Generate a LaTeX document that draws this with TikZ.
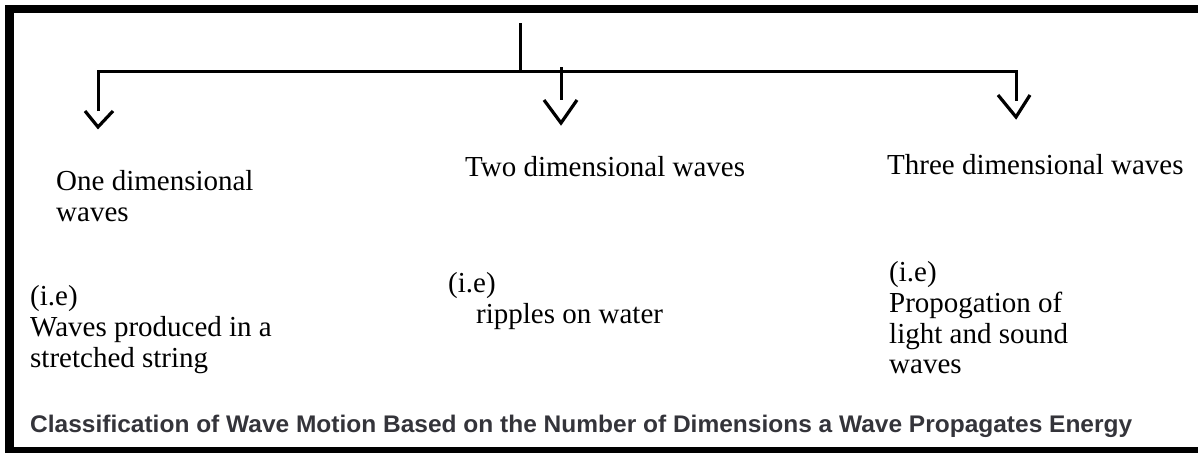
\documentclass[tikz,border=0pt]{standalone}
\usepackage{fontspec}
\setmainfont{Liberation Serif}
\newfontfamily\capfont{Liberation Sans}
\definecolor{capgray}{RGB}{52,52,58}
\begin{document}
\begin{tikzpicture}[x=1pt,y=-1pt,
  conn/.style={line width=3pt,line join=miter},
  vtip/.style={line width=3.2pt,line join=miter,line cap=butt},
  lbl/.style={anchor=base west,inner sep=0pt,font=\fontsize{29}{31}\selectfont},
  frame/.style={fill=black,draw=none}]
\useasboundingbox (0,0) rectangle (1198,453);
% frame
\fill[frame] (5,5) rectangle (1198,13);
\fill[frame] (5,5) rectangle (14,453);
\fill[frame] (5,447) rectangle (1198,453);
% tree
\coordinate (root) at (520,23);
\coordinate (busmid) at (520,71);
\coordinate (lA) at (98,71);
\coordinate (lB) at (98,111);
\coordinate (rA) at (1016,71);
\coordinate (rB) at (1016,101);
\coordinate (mA) at (561,67);
\coordinate (mB) at (561,100);
\draw[conn] (root) -- (busmid);
\draw[conn] (lB) -- (lA) -- (rA) -- (rB);
\draw[conn] (mA) -- (mB);
% open arrow heads
\draw[vtip] (85,111) -- (98,127) -- (113,111);
\draw[vtip] (544,100) -- (561,123) -- (577,100);
\draw[vtip] (998,95) -- (1016,117) -- (1030,95);
% labels
\node[lbl] (one1) at (56,190) {One dimensional};
\node[lbl] (one2) at (56,221) {waves};
\node[lbl] (two1) at (465,176) {Two dimensional waves};
\node[lbl] (three1) at (887,174) {Three dimensional waves};
\node[lbl] (ie1) at (30,305) {(i.e)};
\node[lbl] (ex1a) at (30,336) {Waves produced in a};
\node[lbl] (ex1b) at (30,367) {stretched string};
\node[lbl] (ie2) at (448,292) {(i.e)};
\node[lbl] (ex2a) at (476,323) {ripples on water};
\node[lbl] (ie3) at (889,281) {(i.e)};
\node[lbl] (ex3a) at (889,312) {Propogation of};
\node[lbl] (ex3b) at (889,343) {light and sound};
\node[lbl] (ex3c) at (889,373) {waves};
% caption
\node[anchor=base west,inner sep=0pt,text=capgray] (cap) at (30,432)
  {\resizebox{1102pt}{17.4pt}{\capfont\bfseries Classification of Wave Motion Based on the Number of Dimensions a Wave Propagates Energy}};
\end{tikzpicture}
\end{document}
